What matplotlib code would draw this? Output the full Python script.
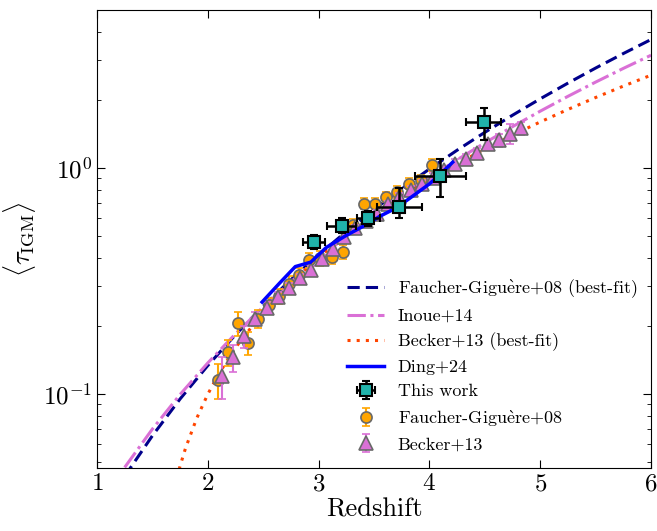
import numpy as np
import matplotlib.pyplot as plt

# model curves
z_model = [1.25, 1.5, 1.75, 2.0, 2.25, 2.5, 2.75, 3.0, 3.25, 3.5, 3.75,
           4.0, 4.25, 4.5, 4.75, 5.0, 5.25, 5.5, 5.75, 6.0]
tau_fg08_fit = [0.0432, 0.0653, 0.0950, 0.1335, 0.1828, 0.2444, 0.3202, 0.4124,
                0.5231, 0.6545, 0.8088, 0.989, 1.198, 1.437, 1.711, 2.022,
                2.373, 2.767, 3.208, 3.70]
tau_inoue14 = [0.0473, 0.0699, 0.0994, 0.1371, 0.1844, 0.2426, 0.3132, 0.3976,
               0.4975, 0.6146, 0.7507, 0.9077, 1.087, 1.291, 1.523, 1.783,
               2.074, 2.398, 2.757, 3.153]

z_becker_fit = [1.70, 1.75, 1.80, 1.90, 2.0, 2.1, 2.25, 2.5, 2.75, 3.0, 3.25,
                3.5, 3.75, 4.0, 4.25, 4.5, 4.75, 5.0, 5.25, 5.5, 5.75, 6.0]
tau_becker_fit = [0.0387, 0.048, 0.0577, 0.078, 0.0997, 0.1228, 0.1603, 0.2304,
                  0.3107, 0.4017, 0.5042, 0.619, 0.7465, 0.8873, 1.0423,
                  1.2121, 1.3968, 1.5977, 1.8151, 2.0495, 2.302, 2.573]

z_ding = [2.49, 2.65, 2.79, 2.93, 3.07, 3.25, 3.43, 3.55, 3.70, 3.86, 4.00,
          4.10, 4.21]
tau_ding = [0.255, 0.31, 0.366, 0.383, 0.445, 0.503, 0.561, 0.61, 0.665,
            0.757, 0.85, 0.94, 1.06]

# this work
z_tw = [2.96, 3.21, 3.45, 3.73, 4.10, 4.49]
tau_tw = [0.470, 0.553, 0.600, 0.672, 0.925, 1.59]
zerr_tw = [0.10, 0.13, 0.10, 0.20, 0.23, 0.16]
tau_lo_tw = [0.034, 0.039, 0.045, 0.074, 0.18, 0.26]
tau_hi_tw = [0.033, 0.045, 0.045, 0.14, 0.17, 0.26]

# Faucher-Giguere+08 measurements
z_fg = [2.09, 2.18, 2.27, 2.36, 2.45, 2.55, 2.64, 2.73, 2.82, 2.91, 3.01,
        3.12, 3.22, 3.31, 3.41, 3.51, 3.61, 3.71, 3.82, 3.92, 4.02]
tau_fg = [0.115, 0.153, 0.205, 0.168, 0.215, 0.247, 0.27, 0.307, 0.335, 0.39,
          0.40, 0.405, 0.425, 0.557, 0.695, 0.695, 0.744, 0.783, 0.853, 0.88,
          1.03]
tau_err_fg = [0.02, 0.02, 0.025, 0.02, 0.02, 0.02, 0.02, 0.025, 0.025, 0.03,
              0.03, 0.03, 0.03, 0.035, 0.04, 0.04, 0.04, 0.045, 0.05, 0.05,
              0.06]

# Becker+13 measurements
z_b13 = [2.13, 2.23, 2.33, 2.43, 2.53, 2.63, 2.73, 2.83, 2.93, 3.03, 3.13,
         3.23, 3.33, 3.43, 3.53, 3.63, 3.73, 3.83, 3.93, 4.03, 4.13, 4.23,
         4.33, 4.43, 4.53, 4.63, 4.73, 4.83]
tau_b13 = [0.120, 0.145, 0.180, 0.215, 0.240, 0.268, 0.295, 0.325, 0.355,
           0.395, 0.440, 0.495, 0.540, 0.580, 0.625, 0.690, 0.745, 0.800,
           0.850, 0.905, 0.975, 1.04, 1.10, 1.16, 1.27, 1.33, 1.42, 1.50]
tau_err_b13 = [0.025, 0.02, 0.02, 0.015, 0.015, 0.015, 0.015, 0.015, 0.015,
               0.015, 0.02, 0.02, 0.02, 0.02, 0.025, 0.025, 0.03, 0.03, 0.035,
               0.04, 0.04, 0.05, 0.05, 0.06, 0.07, 0.09, 0.15, 0.1]

plt.rcParams["font.family"] = ["cmr10", "DejaVu Serif"]
plt.rcParams["mathtext.fontset"] = "cm"
plt.rcParams["axes.formatter.use_mathtext"] = True
plt.rcParams["axes.unicode_minus"] = False

egrave = r"$\mathrm{\grave{e}}$"

fig = plt.figure(figsize=(6.57, 5.31), dpi=100)
ax = fig.add_axes([0.1476, 0.1186, 0.8433, 0.8626])

l1, = ax.plot(z_model, tau_fg08_fit, ls=(0, (4, 2)), color="darkblue", lw=2.2,
              label="Faucher-Gigu" + egrave + "re+08 (best-fit)", zorder=2)
l2, = ax.plot(z_model, tau_inoue14, ls=(0, (6, 1.5, 1, 1.5)), color="orchid",
              lw=2.2, label="Inoue+14", zorder=2)
l3, = ax.plot(z_becker_fit, tau_becker_fit, ls=(0, (1, 2)), color="orangered",
              lw=2.2, label="Becker+13 (best-fit)", zorder=2)

e2 = ax.errorbar(z_fg, tau_fg, yerr=tau_err_fg, fmt="o", ms=8, mfc="orange",
                 mec="dimgray", mew=1.2, ecolor="orange", elinewidth=1.5,
                 capsize=3, capthick=1.5,
                 label="Faucher-Gigu" + egrave + "re+08", zorder=3)
e3 = ax.errorbar(z_b13, tau_b13, yerr=tau_err_b13, fmt="^", ms=10, mfc="orchid",
                 mec="dimgray", mew=1.2, ecolor="orchid", elinewidth=1.5,
                 capsize=3, capthick=1.5, label="Becker+13", zorder=4)
l4, = ax.plot(z_ding, tau_ding, color="blue", lw=2.5, label="Ding+24", zorder=5)
e1 = ax.errorbar(z_tw, tau_tw, xerr=zerr_tw, yerr=[tau_lo_tw, tau_hi_tw],
                 fmt="s", ms=8.5, mfc="lightseagreen", mec="black", mew=1.5,
                 ecolor="black", elinewidth=1.8, capsize=3, capthick=1.8,
                 label="This work", zorder=6)

ax.set_yscale("log")
ax.set_xlim(1, 6)
ax.set_ylim(0.047, 5)
ax.set_xlabel("Redshift", fontsize=19, labelpad=2)
ax.set_ylabel(r"$\langle \tau_{\rm IGM} \rangle$", fontsize=19)
ax.tick_params(which="both", direction="in", top=True, right=True,
               labelsize=18)
ax.tick_params(which="major", length=6)
ax.tick_params(which="minor", length=3)

ax.legend(handles=[l1, l2, l3, l4, e1, e2, e3], loc="lower left",
          bbox_to_anchor=(0.422, -0.002), frameon=False, fontsize=13,
          handlelength=2.05, handletextpad=0.75, labelspacing=0.47)

fig.savefig("out.png", dpi=100)
